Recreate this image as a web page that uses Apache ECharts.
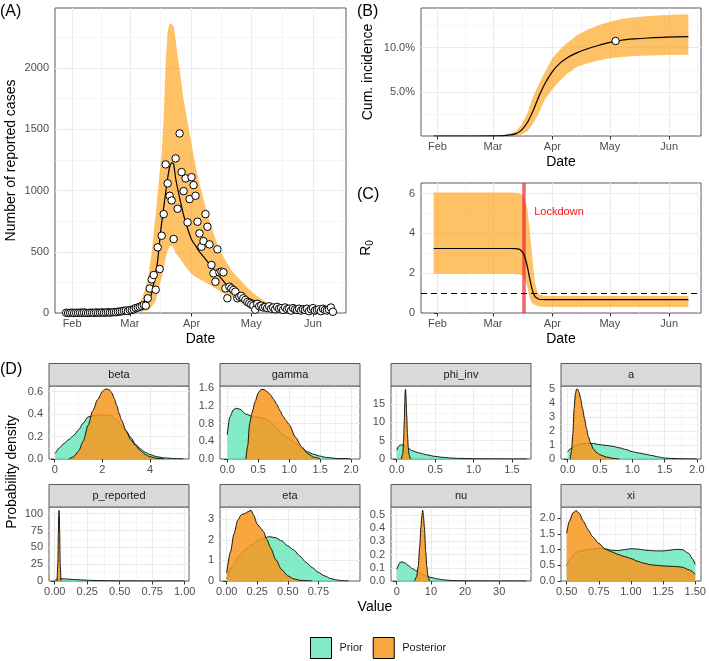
<!DOCTYPE html>
<html><head><meta charset="utf-8">
<script src="https://cdn.jsdelivr.net/npm/echarts/dist/echarts.min.js"></script>
<style>html,body{margin:0;padding:0;background:#fff}#c{width:709px;height:661px}</style>
</head><body><div id="c"></div>
<script>
// ===================== DATA =====================
// Days counted from 1 Feb 2020
const monthTicks = [0, 29, 60, 90, 121];
const monthLabels = ['Feb', 'Mar', 'Apr', 'May', 'Jun'];

// Panel A: reported cases (first value on day -3 = 29 Jan)
const caseStartDay = -3;
const reportedCases = [2, 0, 1, 3, 0, 2, 1, 3, 2, 4, 1, 0, 2, 3, 1, 4, 2, 3, 5, 2, 4, 6, 3, 5, 8, 6, 10, 12, 14, 18, 20,
  15, 25, 25, 30, 40, 45, 51, 57, 65, 60, 120, 200, 275, 310, 190, 536, 359, 631, 807, 1213, 1058, 957, 919, 604,
  1262, 851, 1466, 1150, 995, 1099, 740, 930, 1109, 1044, 957, 745, 650, 541, 587, 807, 704, 560, 392, 324, 255,
  520, 332, 337, 332, 201, 120, 215, 201, 188, 174, 120, 133, 140, 120, 106, 90, 80, 70, 60, 27, 75, 55, 60, 45,
  50, 40, 55, 35, 45, 30, 50, 35, 40, 25, 45, 30, 35, 20, 40, 30, 25, 35, 20, 30, 25, 35, 15, 30, 40, 20, 25, 30,
  15, 35, 25, 20, 30, 45, 10];
const lineDays = [-3, 10, 20, 28, 32, 35, 37, 39, 40.5, 42, 43, 44.5, 46, 48, 49, 50, 51, 52, 54, 56, 58, 60, 62, 64, 66,
  68, 70, 72, 75, 78, 82, 86, 90, 95, 100, 105, 110, 115, 120, 125, 131];
const lineCases = [0, 1, 4, 12, 25, 50, 80, 115, 200, 330, 430, 670, 860, 1100, 1190, 1226, 1215, 1100, 940, 800, 690,
  600, 550, 500, 460, 420, 380, 340, 280, 225, 175, 138, 110, 85, 66, 50, 38, 30, 22, 17, 12];
const bandDays = [-3, 10, 20, 28, 32, 35, 38, 40, 42, 44, 45, 46, 47, 48, 49, 50, 51, 52, 53, 54, 56, 58, 60, 62, 64,
  66, 68, 70, 73, 76, 80, 85, 90, 95, 100, 105, 110, 120, 131];
const bandUpper = [0, 2, 8, 25, 50, 110, 270, 500, 810, 1150, 1300, 1600, 2040, 2300, 2365, 2360, 2340, 2230, 2100,
  1990, 1740, 1560, 1380, 1200, 1060, 930, 810, 700, 560, 460, 350, 260, 175, 115, 65, 45, 38, 32, 28];
const bandLower = [0, 0, 0, 2, 5, 10, 20, 50, 100, 230, 290, 360, 450, 510, 540, 550, 530, 490, 470, 450, 400, 355,
  320, 295, 275, 260, 240, 220, 190, 160, 130, 90, 65, 40, 22, 12, 8, 5, 3];
const caseYTicks = [0, 500, 1000, 1500, 2000];

// Panel B: cumulative incidence (%)
const cumDays = [-2, 20, 30, 35, 38, 41, 44, 47, 50, 53, 56, 60, 64, 68, 73, 78, 84, 90, 96, 103, 110, 120, 131];
const cumMedian = [0, 0, 0.01, 0.05, 0.12, 0.27, 0.7, 1.55, 2.9, 4.5, 5.9, 7.3, 8.25, 8.9, 9.45, 9.85, 10.25, 10.6,
  10.85, 11.0, 11.1, 11.2, 11.25];
const cumUpper = [0, 0.01, 0.04, 0.12, 0.3, 0.55, 1.3, 2.6, 4.5, 5.9, 7.2, 8.8, 9.8, 10.6, 11.45, 12.0, 12.55, 12.95,
  13.25, 13.45, 13.6, 13.7, 13.8];
const cumLower = [0, 0, 0, 0.01, 0.03, 0.08, 0.2, 0.55, 1.45, 2.6, 4.1, 5.3, 6.3, 7.1, 7.85, 8.2, 8.55, 8.8, 8.95,
  9.05, 9.12, 9.17, 9.2];
const serologyDay = 93;
const serologyValue = 10.76;
const cumYTicks = [5, 10];

// Panel C: R0
const r0Days = [-2, 10, 20, 30, 38, 41, 43, 44, 45, 46, 47, 48, 49, 50, 51, 52, 53, 54, 56, 60, 70, 90, 110, 131];
const r0Median = [3.24, 3.24, 3.24, 3.24, 3.24, 3.23, 3.2, 3.12, 2.98, 2.7, 2.3, 1.8, 1.35, 1.0, 0.8, 0.72, 0.69,
  0.68, 0.67, 0.67, 0.67, 0.67, 0.67, 0.67];
const r0Upper = [6.05, 6.05, 6.05, 6.05, 6.05, 6.04, 6.0, 5.95, 5.85, 5.6, 5.2, 4.3, 3.3, 2.3, 1.5, 1.1, 0.95, 0.9,
  0.87, 0.86, 0.85, 0.85, 0.85, 0.85];
const r0Lower = [1.97, 1.97, 1.97, 1.97, 1.97, 1.96, 1.94, 1.9, 1.82, 1.6, 1.3, 0.8, 0.55, 0.45, 0.4, 0.36, 0.34,
  0.32, 0.31, 0.3, 0.3, 0.3, 0.3, 0.3];
const lockdownDay = 45;
const r0Threshold = 1;
const r0YTicks = [0, 2, 4, 6];

// Panel D: densities
const betaPriorX = [0.02, 0.2, 0.4, 0.6, 0.8, 1.0, 1.2, 1.4, 1.6, 1.8, 2.0, 2.2, 2.4, 2.6, 2.8, 3.0, 3.2, 3.4, 3.6, 3.8, 4.0, 4.3, 4.6, 5.0, 5.4];
const betaPriorY = [0.05, 0.1, 0.14, 0.175, 0.21, 0.26, 0.32, 0.375, 0.385, 0.39, 0.393, 0.392, 0.383, 0.35, 0.3, 0.25, 0.19, 0.13, 0.09, 0.06, 0.04, 0.02, 0.01, 0.004, 0.001];
const betaPostX = [0.6, 0.8, 1.0, 1.2, 1.4, 1.6, 1.8, 2.0, 2.1, 2.2, 2.3, 2.4, 2.5, 2.6, 2.7, 2.8, 3.0, 3.2, 3.4, 3.6, 3.8, 4.0, 4.3, 4.6];
const betaPostY = [0, 0.02, 0.07, 0.16, 0.3, 0.43, 0.53, 0.6, 0.62, 0.625, 0.615, 0.59, 0.54, 0.48, 0.41, 0.35, 0.25, 0.17, 0.12, 0.075, 0.04, 0.02, 0.006, 0.001];
const gammaPriorX = [0, 0.04, 0.1, 0.15, 0.2, 0.3, 0.4, 0.5, 0.6, 0.7, 0.8, 0.9, 1.0, 1.1, 1.2, 1.3, 1.4, 1.5, 1.6, 1.8, 2.0];
const gammaPriorY = [0.55, 0.95, 1.12, 1.15, 1.13, 1.02, 0.97, 0.95, 0.92, 0.84, 0.7, 0.55, 0.46, 0.35, 0.24, 0.16, 0.105, 0.065, 0.035, 0.01, 0.002];
const gammaPostX = [0.3, 0.33, 0.36, 0.4, 0.45, 0.5, 0.55, 0.6, 0.65, 0.7, 0.75, 0.8, 0.85, 0.9, 0.95, 1.0, 1.1, 1.2, 1.3, 1.4, 1.5];
const gammaPostY = [0, 0.3, 0.8, 1.05, 1.3, 1.5, 1.58, 1.57, 1.52, 1.45, 1.35, 1.24, 1.1, 0.97, 0.87, 0.78, 0.5, 0.28, 0.12, 0.04, 0.01];
const phiPriorX = [0, 0.03, 0.06, 0.09, 0.12, 0.16, 0.2, 0.25, 0.3, 0.4, 0.5, 0.6, 0.7, 0.8, 1.0, 1.2, 1.5, 1.7];
const phiPriorY = [2.4, 3.6, 3.9, 3.8, 3.4, 2.8, 2.3, 1.9, 1.6, 1.1, 0.7, 0.45, 0.28, 0.17, 0.07, 0.03, 0.01, 0.003];
const phiPostX = [0.06, 0.08, 0.09, 0.1, 0.105, 0.11, 0.115, 0.12, 0.13, 0.14, 0.15, 0.16, 0.18];
const phiPostY = [0, 1.5, 5, 11, 15.5, 18.5, 19, 17.5, 12, 7, 3.5, 1.2, 0];
const aPriorX = [0, 0.05, 0.1, 0.15, 0.2, 0.3, 0.4, 0.5, 0.6, 0.7, 0.8, 0.9, 1.0, 1.1, 1.2, 1.3, 1.4, 1.5, 1.6, 1.8, 2.0];
const aPriorY = [0.52, 0.75, 0.9, 1.0, 1.07, 1.12, 1.1, 1.02, 0.97, 0.9, 0.8, 0.68, 0.52, 0.43, 0.34, 0.25, 0.15, 0.07, 0.04, 0.01, 0.002];
const aPostX = [0.04, 0.06, 0.08, 0.1, 0.12, 0.14, 0.16, 0.18, 0.2, 0.23, 0.26, 0.29, 0.32, 0.36, 0.4, 0.45, 0.5, 0.6, 0.7, 0.8];
const aPostY = [0, 0.6, 1.8, 3.6, 4.7, 5.0, 4.95, 4.7, 4.3, 3.6, 2.9, 2.2, 1.6, 1.05, 0.7, 0.45, 0.3, 0.14, 0.05, 0];
const pRepPriorX = [0, 0.02, 0.05, 0.1, 0.15, 0.2, 0.25, 0.3, 0.4, 0.5, 0.7, 1.0];
const pRepPriorY = [0.5, 3, 3.5, 2.8, 2.2, 1.7, 1.2, 0.8, 0.4, 0.2, 0.05, 0];
const pRepPostX = [0.018, 0.024, 0.028, 0.031, 0.033, 0.035, 0.038, 0.042, 0.048];
const pRepPostY = [0, 25, 70, 98, 105, 100, 75, 25, 0];
const etaPriorX = [0, 0.05, 0.1, 0.15, 0.2, 0.25, 0.3, 0.35, 0.4, 0.45, 0.5, 0.55, 0.6, 0.65, 0.7, 0.75, 0.8, 0.85, 0.9, 0.95, 1.0];
const etaPriorY = [0.1, 0.75, 1.2, 1.5, 1.75, 1.95, 2.08, 2.15, 2.1, 1.95, 1.7, 1.5, 1.2, 0.9, 0.65, 0.42, 0.25, 0.12, 0.05, 0.015, 0];
const etaPostX = [0, 0.03, 0.06, 0.09, 0.12, 0.15, 0.18, 0.2, 0.22, 0.25, 0.28, 0.3, 0.33, 0.36, 0.4, 0.45, 0.5, 0.55, 0.6, 0.7];
const etaPostY = [0.39, 1.4, 2.3, 2.95, 3.22, 3.28, 3.38, 3.43, 3.2, 2.75, 2.55, 2.4, 2.0, 1.6, 1.05, 0.55, 0.25, 0.1, 0.03, 0];
const nuPriorX = [0, 1, 1.5, 2.5, 3.5, 4.5, 5.5, 6.5, 7.5, 8.5, 10, 12, 14, 16, 18, 20, 25, 30, 38];
const nuPriorY = [0.087, 0.14, 0.145, 0.135, 0.115, 0.095, 0.08, 0.065, 0.05, 0.04, 0.027, 0.015, 0.008, 0.004, 0.002, 0.001, 0.0005, 0.0002, 0];
const nuPostX = [5.2, 5.8, 6.3, 6.7, 7.1, 7.4, 7.6, 7.8, 8.1, 8.5, 8.8, 9.2, 9.6];
const nuPostY = [0, 0.03, 0.11, 0.25, 0.41, 0.5, 0.534, 0.5, 0.41, 0.22, 0.11, 0.03, 0];
const xiPriorX = [0.5, 0.53, 0.56, 0.6, 0.65, 0.7, 0.75, 0.8, 0.85, 0.9, 0.95, 1.0, 1.05, 1.1, 1.15, 1.2, 1.25, 1.3, 1.35, 1.4, 1.45, 1.48, 1.5];
const xiPriorY = [0.5, 0.72, 0.88, 0.95, 0.99, 1.02, 1.04, 1.02, 0.98, 0.97, 1.0, 1.03, 1.02, 0.99, 0.97, 0.96, 0.96, 0.98, 1.01, 1.0, 0.88, 0.7, 0.53];
const xiPostX = [0.5, 0.52, 0.55, 0.575, 0.6, 0.63, 0.67, 0.7, 0.75, 0.8, 0.85, 0.9, 0.95, 1.0, 1.05, 1.1, 1.15, 1.2, 1.25, 1.3, 1.35, 1.4, 1.45, 1.5];
const xiPostY = [1.52, 1.9, 2.18, 2.24, 2.15, 1.9, 1.62, 1.42, 1.2, 1.02, 0.93, 0.85, 0.78, 0.72, 0.63, 0.57, 0.52, 0.5, 0.48, 0.47, 0.46, 0.44, 0.36, 0.22];

// tick values
const betaXTicks = [0, 2, 4], betaYTicks = [0, 0.2, 0.4, 0.6];
const gammaXTicks = [0, 0.5, 1, 1.5, 2], gammaYTicks = [0, 0.4, 0.8, 1.2, 1.6];
const phiXTicks = [0, 0.5, 1, 1.5], phiYTicks = [0, 5, 10, 15];
const aXTicks = [0, 0.5, 1, 1.5, 2], aYTicks = [0, 1, 2, 3, 4, 5];
const pRepXTicks = [0, 0.25, 0.5, 0.75, 1], pRepYTicks = [0, 25, 50, 75, 100];
const etaXTicks = [0, 0.25, 0.5, 0.75], etaYTicks = [0, 1, 2, 3];
const nuXTicks = [0, 10, 20, 30], nuYTicks = [0, 0.1, 0.2, 0.3, 0.4, 0.5];
const xiXTicks = [0.5, 0.75, 1, 1.25, 1.5], xiYTicks = [0, 0.5, 1, 1.5, 2];

// ===================== CHART =====================
const FONT = 'Liberation Sans';
const TICK = '#333333', LABEL = '#4D4D4D';
const BAND = 'rgba(255,160,20,0.65)';
const PRIOR = 'rgba(90,230,180,0.75)';
const POST = 'rgba(247,150,30,0.85)';
const majorGrid = {color: '#EBEBEB', width: 1.1, type: 'solid'};
const minorGrid = {color: '#EFEFEF', width: 0.6, type: 'solid'};

const dateRange = [-8.6, 137.6];
const facets = [
  {name: 'beta', xr: [-0.24, 5.64], xt: betaXTicks, xd: 0, yr: [0, 0.651], yt: betaYTicks, yd: 1, pr: [betaPriorX, betaPriorY], po: [betaPostX, betaPostY]},
  {name: 'gamma', xr: [-0.118, 2.145], xt: gammaXTicks, xd: 1, yr: [0, 1.655], yt: gammaYTicks, yd: 1, pr: [gammaPriorX, gammaPriorY], po: [gammaPostX, gammaPostY]},
  {name: 'phi_inv', xr: [-0.074, 1.748], xt: phiXTicks, xd: 1, yr: [0, 19.9], yt: phiYTicks, yd: 0, pr: [phiPriorX, phiPriorY], po: [phiPostX, phiPostY]},
  {name: 'a', xr: [-0.103, 2.062], xt: aXTicks, xd: 1, yr: [0, 5.21], yt: aYTicks, yd: 0, pr: [aPriorX, aPriorY], po: [aPostX, aPostY]},
  {name: 'p_reported', xr: [-0.044, 1.033], xt: pRepXTicks, xd: 2, yr: [0, 110], yt: pRepYTicks, yd: 0, pr: [pRepPriorX, pRepPriorY], po: [pRepPostX, pRepPostY]},
  {name: 'eta', xr: [-0.055, 1.091], xt: etaXTicks, xd: 2, yr: [0, 3.59], yt: etaYTicks, yd: 0, pr: [etaPriorX, etaPriorY], po: [etaPostX, etaPostY]},
  {name: 'nu', xr: [-1.67, 39.3], xt: nuXTicks, xd: 0, yr: [0, 0.559], yt: nuYTicks, yd: 1, pr: [nuPriorX, nuPriorY], po: [nuPostX, nuPostY]},
  {name: 'xi', xr: [0.456, 1.545], xt: xiXTicks, xd: 2, yr: [0, 2.36], yt: xiYTicks, yd: 1, pr: [xiPriorX, xiPriorY], po: [xiPostX, xiPostY]}
];

function minorBreaks(b, lo, hi) {
  const bd = b[1] - b[0];
  const ext = b.slice();
  if (lo < b[0]) ext.unshift(b[0] - bd);
  if (hi > b[b.length - 1]) ext.push(b[b.length - 1] + bd);
  const out = [];
  for (let i = 0; i < ext.length - 1; i++) out.push((ext[i] + ext[i + 1]) / 2);
  out.push(ext[0], ext[ext.length - 1]);
  return out.filter(v => v > lo && v < hi && b.indexOf(v) < 0);
}
function dummyLine(i, xr, yr, z, markLine) {
  return {type: 'line', xAxisIndex: i, yAxisIndex: i, data: [[xr[0], yr[0]]], symbol: 'none',
    lineStyle: {width: 0, opacity: 0}, silent: true, z: z, markLine: markLine};
}
function gridSeries(i, xr, xt, yr, yt) {
  const d = [];
  minorBreaks(xt, xr[0], xr[1]).forEach(v => d.push({xAxis: v, lineStyle: minorGrid}));
  minorBreaks(yt, yr[0], yr[1]).forEach(v => d.push({yAxis: v, lineStyle: minorGrid}));
  xt.filter(v => v > xr[0] && v < xr[1]).forEach(v => d.push({xAxis: v, lineStyle: majorGrid}));
  yt.filter(v => v > yr[0] && v < yr[1]).forEach(v => d.push({yAxis: v, lineStyle: majorGrid}));
  return dummyLine(i, xr, yr, 1, {silent: true, symbol: ['none', 'none'], z: 1, animation: false,
    label: {show: false}, emphasis: {disabled: true}, data: d});
}
function xAx(i, r, ticks, fmt, extra) {
  return Object.assign({type: 'value', gridIndex: i, min: r[0], max: r[1], splitLine: {show: false},
    axisLine: {show: false},
    axisTick: {show: true, customValues: ticks, length: 3.5, lineStyle: {color: TICK, width: 1}},
    axisLabel: {customValues: ticks, formatter: fmt, color: LABEL, fontSize: 11, fontFamily: FONT, margin: 5}}, extra || {});
}
function yAx(i, r, ticks, fmt, extra) {
  return Object.assign({type: 'value', gridIndex: i, min: r[0], max: r[1], splitLine: {show: false},
    axisLine: {show: false},
    axisTick: {show: true, customValues: ticks, length: 3.5, lineStyle: {color: TICK, width: 1}},
    axisLabel: {customValues: ticks, formatter: fmt, color: LABEL, fontSize: 11, fontFamily: FONT, margin: 6}}, extra || {});
}
// ribbon between lower and upper curves, drawn through the axis scales
function bandSeries(i, xs, lo, hi, color) {
  return {type: 'custom', xAxisIndex: i, yAxisIndex: i, silent: true, z: 2, clip: true,
    data: [[xs[0], lo[0]]],
    renderItem: function (params, api) {
      const pts = [];
      for (let k = 0; k < xs.length; k++) pts.push(api.coord([xs[k], hi[k]]));
      for (let k = xs.length - 1; k >= 0; k--) pts.push(api.coord([xs[k], lo[k]]));
      return {type: 'polygon', shape: {points: pts}, style: {fill: color}};
    }};
}
function densSeries(i, xs, ys, fill, name, z) {
  return {type: 'line', name: name, xAxisIndex: i, yAxisIndex: i, data: xs.map((x, k) => [x, ys[k]]), symbol: 'none',
    smooth: 0.25, smoothMonotone: 'x', itemStyle: {color: fill}, lineStyle: {color: '#000', width: 0.9},
    areaStyle: {color: fill, opacity: 1}, silent: true, z: z};
}
const monthFmt = v => { const k = monthTicks.indexOf(v); return k >= 0 ? monthLabels[k] : ''; };
const titleStyle = {fontSize: 14, color: '#000', fontFamily: FONT};

const grids = [
  {left: 55, top: 8, width: 291, height: 305},
  {left: 421, top: 8, width: 280, height: 128},
  {left: 421, top: 183, width: 280, height: 130}
];
const colLeft = [49, 220, 391, 561], rowTop = [386, 507], rowH = [73, 74], colW = 140, stripH = 22.5;
facets.forEach((f, k) => {
  const r = Math.floor(k / 4), c = k % 4;
  grids.push({left: colLeft[c], top: rowTop[r], width: colW, height: rowH[r]});
});
grids.forEach(g => { g.show = true; g.borderColor = '#5a5a5a'; g.borderWidth = 1; g.backgroundColor = '#fff'; g.containLabel = false; });

const caseYRange = [0, 2490], cumYRange = [0, 14.5], r0YRange = [0, 6.53];
const xAxes = [
  xAx(0, dateRange, monthTicks, monthFmt, {name: 'Date', nameLocation: 'middle', nameGap: 19, nameTextStyle: titleStyle}),
  xAx(1, dateRange, monthTicks, monthFmt, {name: 'Date', nameLocation: 'middle', nameGap: 19, nameTextStyle: titleStyle}),
  xAx(2, dateRange, monthTicks, monthFmt, {name: 'Date', nameLocation: 'middle', nameGap: 19, nameTextStyle: titleStyle})
];
const yAxes = [
  yAx(0, caseYRange, caseYTicks, v => String(v), {name: 'Number of reported cases', nameLocation: 'middle', nameGap: 37, nameTextStyle: titleStyle}),
  yAx(1, cumYRange, cumYTicks, v => v.toFixed(1) + '%', {name: 'Cum. incidence', nameLocation: 'middle', nameGap: 46, nameTextStyle: titleStyle}),
  yAx(2, r0YRange, r0YTicks, v => String(v), {name: 'R{sub|0}', nameLocation: 'middle', nameGap: 46,
    nameTextStyle: Object.assign({}, titleStyle, {rich: {sub: {fontSize: 10, fontFamily: FONT, color: '#000', padding: [7, 0, 0, 0]}}})})
];
facets.forEach((f, k) => {
  xAxes.push(xAx(3 + k, f.xr, f.xt, v => v.toFixed(f.xd)));
  yAxes.push(yAx(3 + k, f.yr, f.yt, v => v.toFixed(f.yd)));
});

const series = [];
// Panel A
series.push(gridSeries(0, dateRange, monthTicks, caseYRange, caseYTicks));
series.push(bandSeries(0, bandDays, bandLower, bandUpper, BAND));
series.push({type: 'line', xAxisIndex: 0, yAxisIndex: 0, data: lineDays.map((d, k) => [d, lineCases[k]]), symbol: 'none',
  smooth: 0.3, lineStyle: {color: '#000', width: 1.2}, silent: true, z: 3});
series.push({type: 'scatter', xAxisIndex: 0, yAxisIndex: 0, data: reportedCases.map((v, k) => [caseStartDay + k, v]),
  symbol: 'circle', symbolSize: 7.5, itemStyle: {color: '#fff', borderColor: '#000', borderWidth: 1, opacity: 1}, silent: true, z: 4});
// Panel B
series.push(gridSeries(1, dateRange, monthTicks, cumYRange, cumYTicks));
series.push(bandSeries(1, cumDays, cumLower, cumUpper, BAND));
series.push({type: 'line', xAxisIndex: 1, yAxisIndex: 1, data: cumDays.map((d, k) => [d, cumMedian[k]]), symbol: 'none',
  smooth: 0.3, lineStyle: {color: '#000', width: 1.2}, silent: true, z: 3});
series.push({type: 'scatter', xAxisIndex: 1, yAxisIndex: 1, data: [[serologyDay, serologyValue]], symbol: 'circle', symbolSize: 7.5,
  itemStyle: {color: '#fff', borderColor: '#000', borderWidth: 1, opacity: 1}, silent: true, z: 4});
// Panel C
series.push(gridSeries(2, dateRange, monthTicks, r0YRange, r0YTicks));
series.push(bandSeries(2, r0Days, r0Lower, r0Upper, BAND));
series.push(dummyLine(2, dateRange, r0YRange, 3, {silent: true, symbol: ['none', 'none'], z: 3, animation: false,
  label: {show: false}, emphasis: {disabled: true},
  data: [
    {xAxis: lockdownDay, lineStyle: {color: 'rgba(235,30,45,0.68)', width: 3.5, type: 'solid'}},
    {yAxis: r0Threshold, lineStyle: {color: '#000', width: 1.1, type: [6, 4]}}
  ]}));
series.push({type: 'line', xAxisIndex: 2, yAxisIndex: 2, data: r0Days.map((d, k) => [d, r0Median[k]]), symbol: 'none',
  lineStyle: {color: '#000', width: 1.2}, silent: true, z: 4,
  markPoint: {silent: true, symbol: 'circle', symbolSize: 2, itemStyle: {color: 'transparent'}, animation: false,
    label: {show: true, formatter: 'Lockdown', position: 'right', distance: 0,
      color: '#FF1010', fontSize: 11, fontFamily: FONT},
    data: [{coord: [50, 5.08]}]}});
// Panel D
facets.forEach((f, k) => {
  const i = 3 + k;
  series.push(gridSeries(i, f.xr, f.xt, f.yr, f.yt));
  series.push(densSeries(i, f.pr[0], f.pr[1], PRIOR, 'Prior', 2));
  series.push(densSeries(i, f.po[0], f.po[1], POST, 'Posterior', 3));
});

// Graphic: strips, tags, shared titles
const graphic = [];
facets.forEach((f, k) => {
  const r = Math.floor(k / 4), c = k % 4;
  graphic.push({type: 'rect', shape: {x: colLeft[c], y: rowTop[r] - stripH, width: colW, height: stripH},
    style: {fill: '#D9D9D9', stroke: '#5a5a5a', lineWidth: 1}, silent: true, z: 10});
  graphic.push({type: 'text', x: colLeft[c] + colW / 2, y: rowTop[r] - stripH / 2, silent: true, z: 11,
    style: {text: f.name, fill: '#1A1A1A', font: '11px "' + FONT + '"', align: 'center', verticalAlign: 'middle'}});
});
[['(A)', 0, 11.5], ['(B)', 357, 11.5], ['(C)', 357, 195], ['(D)', 0, 370]].forEach(t => {
  graphic.push({type: 'text', x: t[1], y: t[2], silent: true, z: 11,
    style: {text: t[0], fill: '#000', font: '16px "' + FONT + '"', align: 'left', verticalAlign: 'middle'}});
});
graphic.push({type: 'text', x: 375, y: 607, silent: true, z: 11,
  style: {text: 'Value', fill: '#000', font: '14px "' + FONT + '"', align: 'center', verticalAlign: 'middle'}});
graphic.push({type: 'text', x: 12, y: 472, rotation: Math.PI / 2, silent: true, z: 11,
  style: {text: 'Probability density', fill: '#000', font: '14px "' + FONT + '"', align: 'center', verticalAlign: 'middle'}});

const chart = echarts.init(document.getElementById('c'));
chart.setOption({
  animation: false,
  backgroundColor: '#fff',
  textStyle: {fontFamily: FONT},
  grid: grids,
  xAxis: xAxes,
  yAxis: yAxes,
  series: series,
  graphic: graphic,
  legend: {show: true, left: 310, top: 637, itemWidth: 21, itemHeight: 21, itemGap: 10, padding: 0,
    selectedMode: false, icon: 'rect',
    textStyle: {fontSize: 11, color: '#1A1A1A', fontFamily: FONT, padding: [0, 0, 0, 3]},
    data: [
      {name: 'Prior', itemStyle: {color: PRIOR, borderColor: '#000', borderWidth: 1}},
      {name: 'Posterior', itemStyle: {color: POST, borderColor: '#000', borderWidth: 1}}
    ]}
});
</script></body></html>
